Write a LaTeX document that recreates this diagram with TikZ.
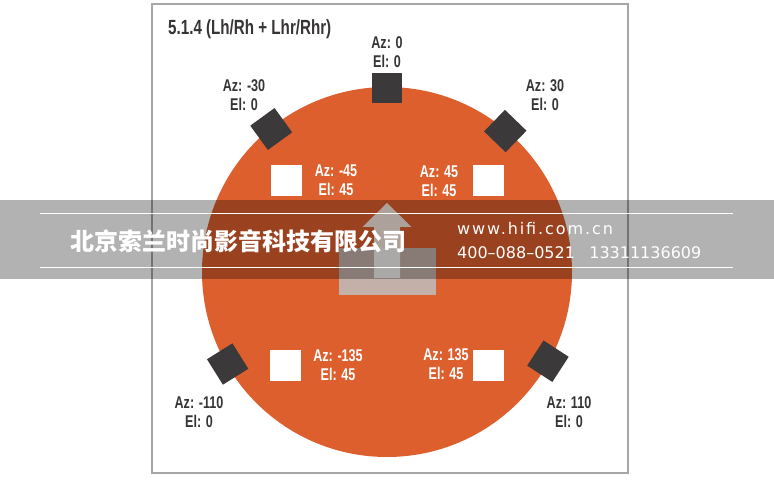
\documentclass[tikz,border=0pt]{standalone}
\usepackage{fontspec}
\usepackage{tikz}
\newfontfamily\condfont[FakeStretch=0.74]{Liberation Sans}
\newfontfamily\cjkfont{Noto Sans CJK SC}
\newfontfamily\webfont{DejaVu Sans}
\definecolor{disc}{RGB}{221,95,45}
\definecolor{spk}{RGB}{60,57,58}
\definecolor{ink}{RGB}{55,52,53}

\tikzset{
  lbl/.style={font=\condfont\bfseries\fontsize{17}{19}\selectfont, align=center, inner sep=0pt},
  spkr/.style={fill=spk, minimum size=30pt, inner sep=0pt},
  hgt/.style={fill=white, minimum size=31pt, inner sep=0pt}
}

\begin{document}
\begin{tikzpicture}[x=1pt,y=1pt]
\useasboundingbox (0,0) rectangle (774,480);
\fill[white] (0,0) rectangle (774,480);
\draw[gray!70, line width=1.2pt] (152,7) rectangle (628,476);
\coordinate (ctr) at (387,208);
\fill[disc] (ctr) circle (185);

\node[lbl, font=\condfont\bfseries\fontsize{20.5}{22}\selectfont, text=ink, anchor=base west] (title) at (168,445) {5.1.4 (Lh/Rh + Lhr/Rhr)};

% ear level speakers
\foreach \ang/\rot/\nm in {90/0/c, 129/36/l, 50/46/r, 210/32/ls, -29/57/rs}
  \node[spkr, rotate=\rot] (spk-\nm) at ([shift={(\ang:184)}]ctr) {};

% height speakers
\node[hgt] (top-lf) at (286,299) {};
\node[hgt] (top-rf) at (488,299) {};
\node[hgt] (top-lr) at (285,115) {};
\node[hgt] (top-rr) at (488,115) {};

% labels
\node[lbl, text=ink] (az-c) at (387,427.5) {Az: 0\\El: 0};
\node[lbl, text=ink] (az-l) at (244,385) {Az: -30\\El: 0};
\node[lbl, text=ink] (az-r) at (545,384.5) {Az: 30\\El: 0};
\node[lbl, text=ink] (az-ls) at (199,67.5) {Az: -110\\El: 0};
\node[lbl, text=ink] (az-rs) at (569,67.5) {Az: 110\\El: 0};
\node[lbl, text=white] (az-lf) at (336,299.5) {Az: -45\\El: 45};
\node[lbl, text=white] (az-rf) at (439,298.5) {Az: 45\\El: 45};
\node[lbl, text=white] (az-lr) at (338,115) {Az: -135\\El: 45};
\node[lbl, text=white] (az-rr) at (446,115.5) {Az: 135\\El: 45};

% listener
\fill[gray!50, opacity=0.85] (339,185) rectangle (436,232);
\fill[white, opacity=0.85] (374,202) -- (374,253) -- (362.5,253) -- (387,277)
  -- (411.5,253) -- (400,253) -- (400,202) -- cycle;

% watermark band
\fill[black, opacity=0.3] (0,201) rectangle (774,280);
\draw[white, line width=0.8pt] (40,267) -- (733,267);
\draw[white, line width=0.8pt] (40,213) -- (733,213);
\node[font=\cjkfont\bfseries\fontsize{24}{24}\selectfont, text=white, anchor=west, inner sep=0pt] (firm) at (70,239) {北京索兰时尚影音科技有限公司};
\node[font=\webfont\fontsize{16}{16}\selectfont\addfontfeature{LetterSpace=12}, text=white, anchor=base west, inner sep=0pt] (web) at (457,245) {www.hifi.com.cn};
\node[font=\webfont\fontsize{16}{16}\selectfont, text=white, anchor=base west, inner sep=0pt] (tel) at (457,222) {400–088–0521\hspace{0.9em}13311136609};
\end{tikzpicture}
\end{document}
